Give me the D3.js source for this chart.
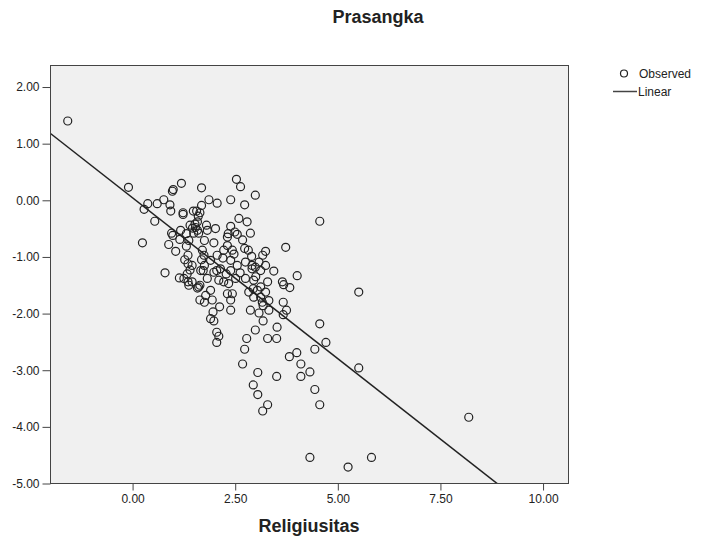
<!DOCTYPE html>
<html>
<head>
<meta charset="utf-8">
<script src="https://cdn.jsdelivr.net/npm/d3@7"></script>
<style>
  body { margin: 0; background: #fff; }
  text { font-family: "Liberation Sans", Arial, sans-serif; fill: #222; }
</style>
</head>
<body>
<div id="chart"></div>
<script>
// Religiusitas (x) vs Prasangka (y), one entry per respondent
const religiusitas = [
  -1.58, -0.10, 0.28, 0.37, 0.24, 0.60, 0.76, 0.91, 0.93, 0.97,
  0.99, 1.19, 0.54, 1.68, 1.68, 1.86, 0.95, 0.88, 1.05, 0.79,
  1.14, 1.23, 1.23, 1.48, 1.56, 1.64, 1.58, 1.40, 1.53, 1.58,
  1.49, 1.17, 1.15, 1.31, 1.37, 1.31, 1.75, 1.80, 1.70, 1.35,
  1.68, 1.75, 1.45, 1.40, 1.72, 1.33, 1.25, 1.35, 1.64, 1.82,
  2.53, 2.63, 2.99, 2.39, 2.06, 2.73, 2.59, 2.79, 2.87, 2.39,
  2.02, 1.82, 2.33, 2.49, 2.55, 2.31, 1.98, 2.31, 2.22, 2.43,
  2.73, 2.82, 3.24, 3.17, 3.73, 2.90, 2.06, 1.90, 2.75, 3.08,
  2.99, 2.91, 3.12, 3.24, 3.44, 2.55, 2.39, 2.14, 1.98, 4.01,
  2.10, 2.22, 2.51, 2.75, 2.95, 3.29, 3.65, 3.68, 3.83, 3.12,
  2.34, 3.67, 3.75, 3.67, 3.52, 3.29, 3.51, 3.18, 3.32, 3.18,
  3.08, 2.87, 2.99, 2.78, 2.73, 2.68, 3.05, 2.94, 3.05, 3.29,
  3.17, 3.51, 4.56, 4.71, 4.44, 4.00, 3.82, 4.10, 4.32, 4.10,
  4.44, 4.56, 2.39, 1.98, 1.96, 2.05, 2.10, 2.05, 2.12, 1.64,
  1.75, 1.94, 2.39, 2.43, 2.31, 1.90, 1.78, 1.61, 1.45, 1.35,
  1.74, 1.66, 2.05, 2.39, 2.91, 2.83, 2.94, 3.04, 2.95, 3.12,
  3.32, 3.16, 3.24, 1.37, 1.58, 1.90, 4.56, 5.51, 5.51, 8.19,
  4.32, 5.25, 5.82, 1.46, 1.61, 1.52, 2.20, 2.62, 1.27, 2.47,
  0.98, 3.00, 2.68, 1.60, 2.28
];
const prasangka = [
  1.40, 0.23, -0.16, -0.06, -0.75, -0.06, 0.01, -0.08, -0.19, 0.16,
  0.19, 0.30, -0.37, 0.22, -0.09, 0.01, -0.58, -0.78, -0.90, -1.28,
  -1.37, -0.22, -0.25, -0.19, -0.19, -0.22, -0.38, -0.44, -0.48, -0.53,
  -0.58, -0.53, -0.69, -0.59, -0.71, -0.81, -0.71, -0.44, -0.88, -0.97,
  -1.05, -1.15, -1.15, -1.23, -1.24, -1.30, -1.38, -1.44, -1.50, -1.38,
  0.37, 0.24, 0.09, 0.01, -0.05, -0.08, -0.32, -0.38, -0.58, -0.46,
  -0.50, -0.53, -0.59, -0.56, -0.60, -0.65, -0.75, -0.80, -0.88, -0.88,
  -0.85, -0.88, -0.90, -0.97, -0.83, -0.99, -0.97, -1.06, -1.09, -1.09,
  -1.18, -1.21, -1.24, -1.15, -1.25, -1.15, -1.24, -1.21, -1.27, -1.33,
  -1.41, -1.44, -1.38, -1.38, -1.41, -1.44, -1.44, -1.49, -1.54, -1.53,
  -1.47, -1.80, -1.94, -2.02, -2.24, -2.44, -2.44, -2.13, -1.94, -1.86,
  -1.99, -1.94, -2.29, -2.44, -2.63, -2.89, -3.04, -3.26, -3.43, -3.61,
  -3.72, -3.11, -2.18, -2.51, -2.63, -2.69, -2.76, -2.89, -3.03, -3.11,
  -3.34, -3.61, -1.94, -2.13, -1.97, -2.33, -2.40, -2.51, -1.88, -1.76,
  -1.80, -1.76, -1.76, -1.65, -1.65, -1.59, -1.68, -1.53, -1.44, -1.12,
  -0.97, -1.24, -1.24, -1.06, -1.15, -1.62, -1.56, -1.59, -1.71, -1.71,
  -1.77, -1.80, -1.62, -1.50, -1.55, -2.09, -0.37, -1.62, -2.96, -3.83,
  -4.54, -4.71, -4.54, -0.49, -0.58, -0.42, -1.02, -1.28, -1.05, -0.95,
  -0.62, -1.35, -0.70, -0.28, -1.30
];
// linear fit shown in the chart
const fitIntercept = 0.044;
const fitSlope = -0.568;

const xTicks = [0, 2.5, 5, 7.5, 10];
const yTicks = [2, 1, 0, -1, -2, -3, -4, -5];

const width = 702, height = 548;
const margin = { top: 65, right: 134, bottom: 65, left: 50 };
const innerW = width - margin.left - margin.right;
const innerH = height - margin.top - margin.bottom;

const svg = d3.select('#chart').append('svg')
  .attr('width', width)
  .attr('height', height);

const x = d3.scaleLinear().domain([-2.0, 10.62]).range([0, innerW]);
const y = d3.scaleLinear().domain([-5, 2.38]).range([innerH, 0]);

const plot = svg.append('g').attr('transform', `translate(${margin.left + 0.5},${margin.top + 0.5})`);

plot.append('defs').append('clipPath').attr('id', 'clip')
  .append('rect').attr('width', innerW).attr('height', innerH);

plot.append('rect')
  .attr('width', innerW)
  .attr('height', innerH)
  .attr('fill', '#f0f0f0');

// axes (plain hyphen for negatives, like SPSS)
const fmt = d3.formatLocale({ decimal: '.', thousands: ',', grouping: [3], currency: ['', ''], minus: '-' }).format('.2f');
const yAxis = plot.append('g')
  .call(d3.axisLeft(y).tickValues(yTicks).tickFormat(fmt).tickSize(8).tickPadding(3));
const xAxis = plot.append('g')
  .attr('transform', `translate(0,${innerH})`)
  .call(d3.axisBottom(x).tickValues(xTicks).tickFormat(fmt).tickSize(7).tickPadding(4));
[xAxis, yAxis].forEach(a => {
  a.select('.domain').remove();
  a.selectAll('line').attr('stroke', '#444');
  a.selectAll('text').style('font-size', '12px').attr('fill', '#222')
    .style('font-family', '"Liberation Sans", Arial, sans-serif');
});

// points
const pts = religiusitas.map((v, i) => ({ x: v, y: prasangka[i] }));
plot.append('g').attr('clip-path', 'url(#clip)')
  .selectAll('circle')
  .data(pts)
  .enter().append('circle')
  .attr('cx', d => x(d.x))
  .attr('cy', d => y(d.y))
  .attr('r', 4)
  .attr('fill', 'none')
  .attr('stroke', '#222')
  .attr('stroke-width', 1.2);

// fit line
const xd = x.domain();
plot.append('path')
  .datum(xd.map(v => ({ x: v, y: fitIntercept + fitSlope * v })))
  .attr('clip-path', 'url(#clip)')
  .attr('fill', 'none')
  .attr('stroke', '#222')
  .attr('stroke-width', 1.5)
  .attr('d', d3.line().x(d => x(d.x)).y(d => y(d.y)));

// frame
plot.append('rect')
  .attr('width', innerW)
  .attr('height', innerH)
  .attr('fill', 'none')
  .attr('stroke', '#444');

// titles
svg.append('text')
  .attr('x', 378).attr('y', 23)
  .attr('text-anchor', 'middle')
  .style('font-size', '18px').style('font-weight', 'bold')
  .text('Prasangka');

svg.append('text')
  .attr('x', margin.left + innerW / 2).attr('y', 532)
  .attr('text-anchor', 'middle')
  .style('font-size', '18px').style('font-weight', 'bold')
  .text('Religiusitas');

// legend
const lg = svg.append('g').attr('transform', 'translate(613,0)');
lg.append('circle').attr('cx', 11).attr('cy', 73.5).attr('r', 3.5)
  .attr('fill', 'none').attr('stroke', '#222').attr('stroke-width', 1.2);
lg.append('text').attr('x', 26).attr('y', 78).style('font-size', '12px').text('Observed');
lg.append('line').attr('x1', 0).attr('x2', 24).attr('y1', 91.5).attr('y2', 91.5)
  .attr('stroke', '#444').attr('stroke-width', 1.5);
lg.append('text').attr('x', 25).attr('y', 96).style('font-size', '12px').text('Linear');
</script>
</body>
</html>
